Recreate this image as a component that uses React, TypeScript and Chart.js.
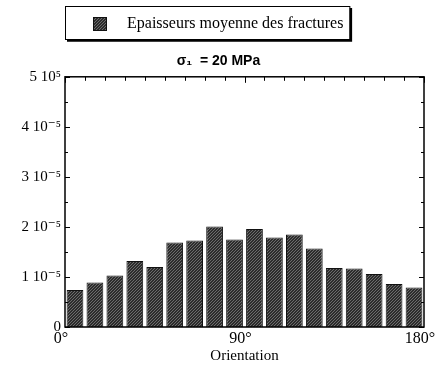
import React, { useEffect, useRef } from "react";
import { Chart, registerables } from "chart.js";

Chart.register(...registerables);

const categories = ["0", "10", "20", "30", "40", "50", "60", "70", "80", "90", "100", "110", "120", "130", "140", "150", "160", "170"];
const thicknessE5 = [0.74, 0.89, 1.03, 1.32, 1.2, 1.69, 1.73, 2.01, 1.75, 1.96, 1.79, 1.85, 1.57, 1.18, 1.17, 1.06, 0.86, 0.79];
const seriesLabel = "Epaisseurs moyenne des fractures";
const titleText = "σ₁  = 20 MPa";
const xTickValues = [0, 90, 180];
const yTickLabels = ["0", "1 10⁻⁵", "2 10⁻⁵", "3 10⁻⁵", "4 10⁻⁵", "5 10⁵"];
const xAxisTitle = "Orientation";

const SERIF = "'Liberation Serif', 'DejaVu Serif', serif";
const SANS = "'Liberation Sans', Arial, sans-serif";

function makePattern(): CanvasPattern | string {
  const c = document.createElement("canvas");
  c.width = 6;
  c.height = 6;
  const g = c.getContext("2d");
  if (!g) return "#444";
  g.fillStyle = "#2c2c2c";
  g.fillRect(0, 0, 6, 6);
  g.strokeStyle = "#6c6c6c";
  g.lineWidth = 1;
  for (let k = -6; k <= 12; k += 3) {
    g.beginPath();
    g.moveTo(k, 6);
    g.lineTo(k + 6, 0);
    g.stroke();
  }
  const p = g.createPattern(c, "repeat");
  return p || "#444";
}

export default function App() {
  const ref = useRef<HTMLCanvasElement | null>(null);

  useEffect(() => {
    document.body.style.margin = "0";
    const canvas = ref.current;
    if (!canvas) return;
    const pattern = makePattern();

    const framePlugin = {
      id: "framePlugin",
      afterDatasetsDraw(chart: any) {
        const ctx = chart.ctx;
        const a = chart.chartArea;
        const y = chart.scales.y;
        const x2 = chart.scales.x2;
        ctx.save();
        ctx.strokeStyle = "#000";
        ctx.lineWidth = 1.5;
        ctx.strokeRect(a.left, a.top, a.right - a.left, a.bottom - a.top);
        ctx.lineWidth = 1;
        ctx.beginPath();
        for (let v = 0; v <= 5; v += 0.5) {
          const py = Math.round(y.getPixelForValue(v)) + 0.5;
          const len = Number.isInteger(v) ? 5 : 3;
          ctx.moveTo(a.left, py);
          ctx.lineTo(a.left + len, py);
          ctx.moveTo(a.right, py);
          ctx.lineTo(a.right - len, py);
        }
        for (let v = 0; v <= 180; v += 10) {
          const px = Math.round(x2.getPixelForValue(v)) + 0.5;
          const len = v % 90 === 0 ? 6 : 4;
          ctx.moveTo(px, a.top);
          ctx.lineTo(px, a.top + len);
        }
        ctx.stroke();
        ctx.restore();
      },
      afterDraw(chart: any) {
        const ctx = chart.ctx;
        ctx.save();
        ctx.font = "16px " + SERIF;
        const tw = ctx.measureText(seriesLabel).width;
        const left = 65;
        const top = 6;
        const h = 33;
        const sw = 14;
        const w = 28 + sw + 20 + tw + 6;
        ctx.fillStyle = "#fff";
        ctx.fillRect(left, top, w, h);
        ctx.strokeStyle = "#000";
        ctx.lineWidth = 1;
        ctx.strokeRect(left + 0.5, top + 0.5, w, h);
        ctx.lineWidth = 2.5;
        ctx.beginPath();
        ctx.moveTo(left + w + 1.5, top + 2);
        ctx.lineTo(left + w + 1.5, top + h + 1.5);
        ctx.lineTo(left + 2, top + h + 1.5);
        ctx.stroke();
        ctx.fillStyle = pattern as any;
        ctx.fillRect(left + 28, top + 11, sw, sw);
        ctx.strokeStyle = "#111";
        ctx.lineWidth = 1;
        ctx.strokeRect(left + 28.5, top + 11.5, sw - 1, sw - 1);
        ctx.fillStyle = "#000";
        ctx.textBaseline = "middle";
        ctx.textAlign = "left";
        ctx.fillText(seriesLabel, left + 28 + sw + 20, top + h / 2 + 1);
        ctx.restore();
      },
    };

    const chart = new Chart(canvas, {
      type: "bar",
      data: {
        labels: categories,
        datasets: [
          {
            label: seriesLabel,
            data: thicknessE5,
            backgroundColor: pattern as any,
            borderColor: "#111",
            borderWidth: 1,
            barPercentage: 0.84,
            categoryPercentage: 1,
            xAxisID: "x",
            yAxisID: "y",
          },
        ],
      },
      options: {
        animation: false,
        responsive: false,
        maintainAspectRatio: false,
        layout: { padding: { top: 0, right: 0, bottom: 0, left: 0 } },
        plugins: {
          legend: { display: false },
          tooltip: { enabled: false },
          title: {
            display: true,
            text: titleText,
            color: "#000",
            font: { family: SANS, size: 14, weight: "bold", lineHeight: 1.2 },
            padding: { top: 53, bottom: 7 },
          },
        },
        scales: {
          x: {
            type: "category",
            display: false,
            offset: true,
            grid: { display: false },
          },
          x2: {
            type: "linear",
            position: "bottom",
            min: 0,
            max: 180,
            offset: false,
            afterBuildTicks: (s: any) => {
              s.ticks = xTickValues.map((v) => ({ value: v }));
            },
            ticks: {
              color: "#000",
              font: { family: SERIF, size: 16 },
              padding: 2,
              maxRotation: 0,
              labelOffset: -4,
              callback: (v: any) => v + "°",
            },
            grid: { display: false, drawTicks: false, offset: false },
            border: { display: false },
            title: {
              display: true,
              text: xAxisTitle,
              color: "#000",
              font: { family: SERIF, size: 15 },
              padding: { top: 0, bottom: 8 },
            },
            afterFit: (s: any) => {
              s.height = 46;
              s.paddingLeft = 0;
              s.paddingRight = 13;
            },
          },
          y: {
            type: "linear",
            min: 0,
            max: 5,
            afterBuildTicks: (s: any) => {
              s.ticks = yTickLabels.map((_, i) => ({ value: i }));
            },
            ticks: {
              color: "#000",
              font: { family: SERIF, size: 15 },
              padding: 4,
              callback: (v: any) => yTickLabels[Math.round(Number(v))] ?? "",
            },
            grid: { display: false, drawTicks: false },
            border: { display: false },
            afterFit: (s: any) => {
              s.width = 65;
            },
          },
        },
      },
      plugins: [framePlugin],
    } as any);

    return () => chart.destroy();
  }, []);

  return (
    <div style={{ width: 437, height: 373, background: "#fff" }}>
      <canvas ref={ref} width={437} height={373} style={{ display: "block" }} />
    </div>
  );
}
